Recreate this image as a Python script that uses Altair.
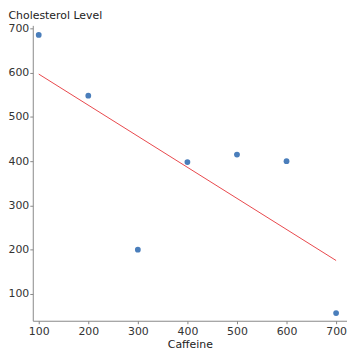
import altair as alt
import pandas as pd

caffeine = [100, 200, 300, 400, 500, 600, 700]
cholesterol = [685, 548, 200, 398, 415, 400, 57]

df = pd.DataFrame({"Caffeine": caffeine, "Cholesterol": cholesterol})

FONT = "DejaVu Sans"

x_enc = alt.X(
    "Caffeine:Q",
    scale=alt.Scale(domain=[88, 722], nice=False, zero=False),
    axis=alt.Axis(
        title="Caffeine",
        values=[100, 200, 300, 400, 500, 600, 700],
        grid=False,
        tickSize=3,
        labelPadding=2,
        titlePadding=2,
        labelFontSize=11,
        titleFontSize=11,
        titleFontWeight="normal",
        labelColor="#333333",
        titleColor="#222222",
        domainColor="#888888",
        tickColor="#888888",
        labelFont=FONT,
        titleFont=FONT,
    ),
)

y_enc = alt.Y(
    "Cholesterol:Q",
    scale=alt.Scale(domain=[39.6, 706.7], nice=False, zero=False),
    axis=alt.Axis(
        title="Cholesterol Level",
        values=[100, 200, 300, 400, 500, 600, 700],
        grid=False,
        tickSize=3,
        labelPadding=1,
        labelFontSize=11,
        titleFontSize=11,
        titleFontWeight="normal",
        titleAngle=0,
        titleAlign="left",
        titleBaseline="alphabetic",
        titleX=-25,
        titleY=-7,
        labelColor="#333333",
        titleColor="#222222",
        domainColor="#888888",
        tickColor="#888888",
        labelFont=FONT,
        titleFont=FONT,
    ),
)

points = alt.Chart(df).mark_point(filled=True, size=34, color="#4a7ebb", opacity=1).encode(
    x=x_enc, y=y_enc
)

line = (
    alt.Chart(df)
    .transform_regression("Caffeine", "Cholesterol")
    .mark_line(color="#e8474b", strokeWidth=1)
    .encode(x="Caffeine:Q", y="Cholesterol:Q")
)

chart = (
    alt.layer(line, points)
    .properties(width=317, height=298, padding={"left": 0, "top": 0, "right": 0, "bottom": 0})
    .configure_view(stroke=None)
)

chart.save("out.html", embed_options={"renderer": "svg", "actions": False})
